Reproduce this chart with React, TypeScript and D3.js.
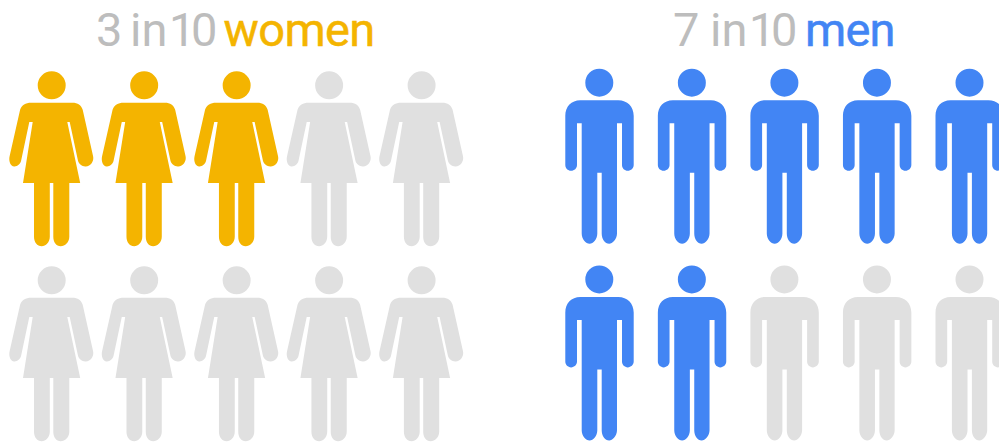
import React from "react";
import * as d3 from "d3";

const columns = [0, 1, 2, 3, 4];
const rows = [0, 1];
const womenFilled = 3;
const menFilled = 7;
const total = 10;
const womenTitle = ["3", "in", "10", "women"];
const menTitle = ["7", "in", "10", "men"];

const ACTIVE_W = "#f4b400";
const ACTIVE_M = "#4285f4";
const IDLE = "#e0e0e0";
const GRAY = "#bdbdbd";

const W = 999, H = 443;

const womanX = d3.scaleLinear().domain([0, 4]).range([51.7, 421.6]);
const manX = d3.scaleLinear().domain([0, 4]).range([599.3, 969.5]);
const womanY = d3.scaleLinear().domain([0, 1]).range([85.3, 280.3]);
const manY = d3.scaleLinear().domain([0, 1]).range([82.7, 279.4]);

// glyphs in local coords, origin at head centre
const WOMAN = `
M-14 0a14 14 0 1 0 28 0a14 14 0 1 0 -28 0Z
M-20.7 17.4 H20.7 C26 17.4 29.6 20 31 24.5 L41.4 71 C42.5 76 39 81 34 81.2 C30.5 81.4 27.3 79 26.3 75.5 L18 36.6 H15.6 L28.5 97.7 H17.6 V151.5 C17.6 157 13.3 161 9 161 C4.6 161 1.6 157 1.6 151.5 V97.7 H-1.9 V151.5 C-1.9 157 -6 161 -10 161 C-14.5 161 -17.7 157 -17.7 151.5 V97.7 H-28.7 L-19 36.6 H-22.4 L-30.6 75.5 C-31.4 79 -34.5 81.4 -37.5 81.2 C-41.2 81 -43.2 76 -42.1 71 L-31.6 24.5 C-30.2 20 -26 17.4 -20.7 17.4Z`;

const MAN = `
M-14 0a14 14 0 1 0 28 0a14 14 0 1 0 -28 0Z
M-19 17.6 H19 C28 17.6 34.4 24 34.4 33 V82.2 C34.4 85.6 31.6 88 28.5 88 C25.3 88 22.7 85.6 22.7 82.2 V40.6 H17.7 V150.8 C17.7 156.6 13 161 9.9 161 C5.7 161 2.4 156.6 2.4 150.8 V90 H-2 V150.8 C-2 156.6 -6 161 -9.7 161 C-13.5 161 -17.6 156.6 -17.6 150.8 V40.6 H-22.3 V82.2 C-22.3 85.6 -25 88 -28.2 88 C-31.4 88 -34 85.6 -34 82.2 V33 C-34 24 -28 17.6 -19 17.6Z`;

function Figures({ glyph, x, y, filled, color }: { glyph: string; x: d3.ScaleLinear<number, number>; y: d3.ScaleLinear<number, number>; filled: number; color: string }) {
  const cells = d3.cross(rows, columns).slice(0, total);
  return (
    <g>
      {cells.map(([r, c], i) => (
        <path key={i} d={glyph} fill={i < filled ? color : IDLE} transform={`translate(${x(c)},${y(r)})`} />
      ))}
    </g>
  );
}

function Title({ parts, xs, color, accentSpacing }: { parts: string[]; xs: number[]; color: string; accentSpacing: number }) {
  return (
    <g style={{ fontFamily: "Roboto", fontSize: 47 }}>
      {parts.map((p, i) => (
        <text key={i} x={xs[i]} y={45.5} fill={i === 3 ? color : GRAY} stroke={i === 3 ? color : "none"} strokeWidth={0.5} fontWeight={400} letterSpacing={i === 3 ? accentSpacing : i === 2 ? -4.5 : 0}>{p}</text>
      ))}
    </g>
  );
}

export default function App() {
  return (
    <svg width={W} height={H} viewBox={`0 0 ${W} ${H}`} style={{ position: "fixed", left: 0, top: 0, display: "block", background: "#fff" }}>
      <Title parts={womenTitle} xs={[96, 130, 169, 223.5]} color={ACTIVE_W} accentSpacing={-0.6} />
      <Title parts={menTitle} xs={[673, 710, 749, 805]} color={ACTIVE_M} accentSpacing={-0.8} />
      <Figures glyph={WOMAN} x={womanX} y={womanY} filled={womenFilled} color={ACTIVE_W} />
      <Figures glyph={MAN} x={manX} y={manY} filled={menFilled} color={ACTIVE_M} />
    </svg>
  );
}
